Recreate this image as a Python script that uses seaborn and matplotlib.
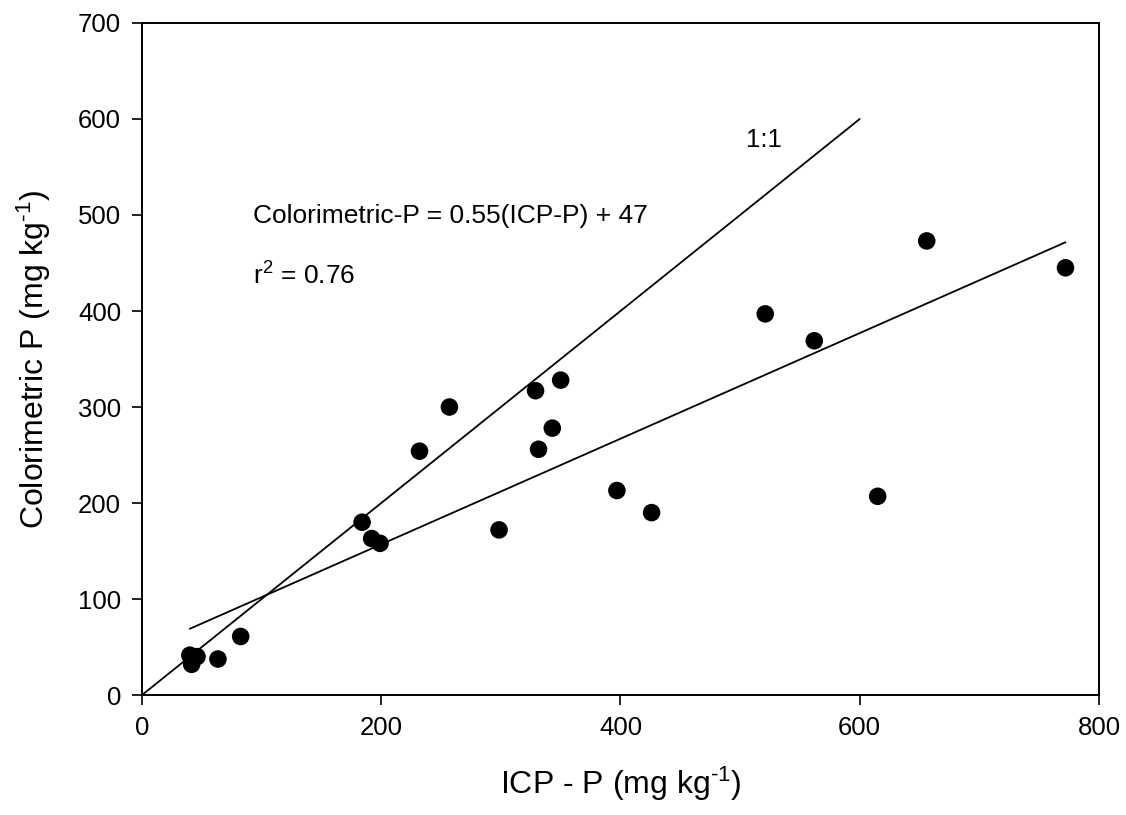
import matplotlib
matplotlib.use("Agg")
import matplotlib.pyplot as plt
import seaborn as sns
import pandas as pd

# ── Data ──────────────────────────────────────────────────
icp_p = [40, 41.5, 46, 63.5, 82.5, 184, 192, 199, 232, 257, 298.5,
         329, 331.5, 343, 350, 397, 426, 521, 562, 615, 656, 772]
color_p = [41.5, 32, 40, 37.5, 61, 180, 163, 158, 254, 300, 172,
           317, 256, 278, 328, 213, 190, 397, 369, 207, 473, 445]

# fitted line: Colorimetric-P = 0.55(ICP-P) + 47, drawn over the data range
fit_slope = 0.55
fit_intercept = 47
fit_x = [40, 772]

# 1:1 reference line
one_x = [0, 600]
one_y = [0, 600]

x_ticks = [0, 200, 400, 600, 800]
y_ticks = [0, 100, 200, 300, 400, 500, 600, 700]

sns.set_style("ticks")
plt.rcParams["font.family"] = ["Liberation Sans", "DejaVu Sans"]
plt.rcParams["mathtext.fontset"] = "custom"
plt.rcParams["mathtext.rm"] = "Liberation Sans"
plt.rcParams["mathtext.default"] = "regular"
plt.rcParams["text.color"] = "black"
plt.rcParams["axes.labelcolor"] = "black"
plt.rcParams["xtick.color"] = "black"
plt.rcParams["ytick.color"] = "black"

df = pd.DataFrame({"icp": icp_p, "col": color_p})
fit_df = pd.DataFrame({"x": fit_x,
                       "y": [fit_slope * v + fit_intercept for v in fit_x]})
one_df = pd.DataFrame({"x": one_x, "y": one_y})

fig = plt.figure(figsize=(11.26, 8.15), dpi=100)
ax = fig.add_axes([0.1261, 0.1472, 0.8499, 0.8246])

sns.lineplot(data=one_df, x="x", y="y", color="black", linewidth=1.3, ax=ax)
sns.lineplot(data=fit_df, x="x", y="y", color="black", linewidth=1.3, ax=ax)
sns.scatterplot(data=df, x="icp", y="col", color="black", s=160,
                edgecolor="none", ax=ax, zorder=3)

ax.set_xlim(0, 800)
ax.set_ylim(0, 700)
ax.set_xticks(x_ticks)
ax.set_yticks(y_ticks)
ax.tick_params(axis="both", direction="out", length=7, width=1.2,
               labelsize=18.5, pad=8)
for sp in ax.spines.values():
    sp.set_visible(True)
    sp.set_linewidth(1.4)
    sp.set_color("black")

unit = r"(mg kg$^{\text{-}1}$)"
ax.set_xlabel("ICP - P " + unit, fontsize=23, labelpad=18)
ax.set_ylabel("Colorimetric P " + unit, fontsize=23, labelpad=18)

ax.text(93, 492, "Colorimetric-P = 0.55(ICP-P) + 47", fontsize=19,
        va="baseline", ha="left")
ax.text(93, 427, "r$^{2}$ = 0.76", fontsize=19, va="baseline", ha="left")
ax.text(505, 571, "1:1", fontsize=18.5, va="baseline", ha="left")

fig.savefig("out.png", dpi=100)
